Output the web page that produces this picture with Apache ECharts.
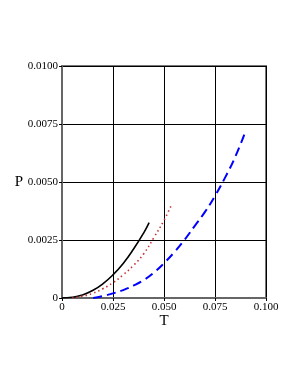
<!DOCTYPE html>
<html><head><meta charset="utf-8">
<script src="https://cdn.jsdelivr.net/npm/echarts@6/dist/echarts.min.js"></script>
<style>html,body{margin:0;padding:0;background:#fff}#c{width:300px;height:388px}</style>
</head><body><div id="c"></div>
<script>
var xTicks = ['0', '0.025', '0.050', '0.075', '0.100'];
var yTicks = ['0', '0.0025', '0.0050', '0.0075', '0.0100'];
var blackT = [0, 0.005, 0.01, 0.015, 0.02, 0.025, 0.03, 0.035, 0.04, 0.0427];
var blackP = [0, 0.00003, 0.00013, 0.00032, 0.00061, 0.001, 0.00149, 0.0021, 0.0028, 0.00325];
var redT = [0.005, 0.01, 0.015, 0.02, 0.025, 0.03, 0.035, 0.04, 0.045, 0.05, 0.0536];
var redP = [0, 0.00008, 0.0002, 0.0004, 0.00066, 0.001, 0.0014, 0.0019, 0.0026, 0.00335, 0.0040];
var blueT = [0.0153, 0.02, 0.025, 0.03, 0.035, 0.04, 0.045, 0.05, 0.055, 0.06, 0.065, 0.07, 0.075, 0.08, 0.085, 0.09];
var blueP = [0, 0.00008, 0.0002, 0.00034, 0.00053, 0.00077, 0.00109, 0.0015, 0.00197, 0.0025, 0.0031, 0.0037, 0.0044, 0.0052, 0.0061, 0.0072];

function zip(a, b) { return a.map(function (v, i) { return [v, b[i]]; }); }
var font = '"Liberation Serif", "DejaVu Serif", serif';
var chart = echarts.init(document.getElementById('c'));
chart.setOption({
  animation: false,
  grid: { left: 62, right: 34, top: 66, bottom: 90, show: true, borderColor: '#777', borderWidth: 2 },
  xAxis: {
    type: 'value', min: 0, max: 0.1, interval: 0.025,
    name: 'T', nameLocation: 'middle', nameGap: 16, nameMoveOverlap: false,
    nameTextStyle: { fontFamily: font, fontSize: 15, color: '#000' },
    axisLine: { show: true, onZero: false, lineStyle: { color: '#666', width: 2 } },
    axisTick: { show: true, length: 3, lineStyle: { color: '#000' } },
    axisLabel: { fontFamily: font, fontSize: 11, color: '#000', margin: 4,
      formatter: function (v) { return xTicks[Math.round(v / 0.025)]; } },
    splitLine: { show: true, lineStyle: { color: '#000', width: 1 } }
  },
  yAxis: {
    type: 'value', min: 0, max: 0.01, interval: 0.0025,
    name: 'P', nameLocation: 'middle', nameGap: 39, nameRotate: 0, nameMoveOverlap: false,
    nameTextStyle: { fontFamily: font, fontSize: 15, color: '#000' },
    axisLine: { show: true, onZero: false, lineStyle: { color: '#666', width: 2 } },
    axisTick: { show: true, length: 3, lineStyle: { color: '#000' } },
    axisLabel: { fontFamily: font, fontSize: 11, color: '#000', margin: 4,
      formatter: function (v) { return yTicks[Math.round(v / 0.0025)]; } },
    splitLine: { show: true, lineStyle: { color: '#000', width: 1 } }
  },
  series: [
    { type: 'line', data: zip(blackT, blackP), smooth: true, showSymbol: false,
      lineStyle: { color: '#000', width: 1.6 } },
    { type: 'line', data: zip(redT, redP), smooth: true, showSymbol: false,
      lineStyle: { color: '#c83232', width: 1.6, type: [1.5, 3] } },
    { type: 'line', data: zip(blueT, blueP), smooth: true, showSymbol: false,
      lineStyle: { color: '#0000ff', width: 2, type: [9, 5] } }
  ]
});
</script></body></html>
